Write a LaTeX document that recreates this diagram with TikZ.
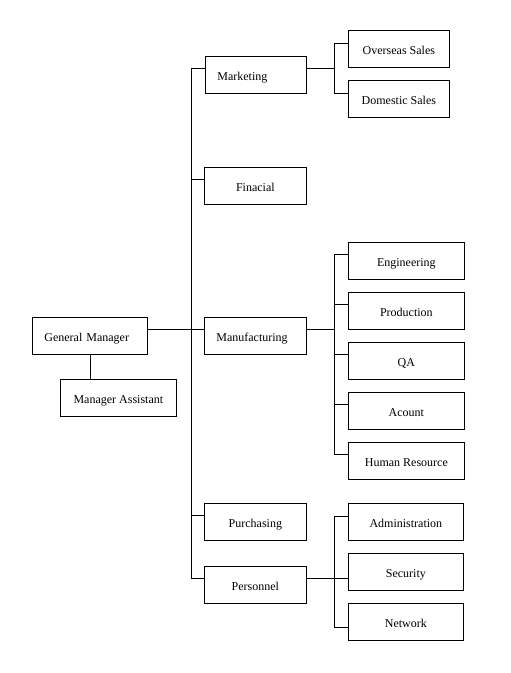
\documentclass[tikz,border=0pt]{standalone}
\usepackage{fontspec}
\setmainfont{Liberation Serif}
\begin{document}
\begin{tikzpicture}[x=1pt,y=-1pt,
  box/.style={draw, line width=0.8pt, rectangle, inner sep=0pt, minimum height=37pt,
    anchor=north west, text height=11.5pt, text depth=0.5pt, font=\fontsize{12}{14}\selectfont},
  cbox/.style={box, minimum width=#1},
  lbox/.style={box, align=left, inner xsep=12pt, text width=#1},
  conn/.style={line width=0.8pt}]
\useasboundingbox (0,0) rectangle (511,673);
% nodes
\node[lbox=91pt] (gm) at (32,317) {General Manager};
\node[cbox=116pt] (ma) at (60,379) {Manager Assistant};
\node[lbox=77pt] (mkt) at (205,56) {Marketing};
\node[cbox=102pt] (fin) at (204,167) {Finacial};
\node[lbox=78pt] (mfg) at (204,317) {Manufacturing};
\node[cbox=102pt] (pur) at (204,503) {Purchasing};
\node[cbox=102pt] (per) at (204,566) {Personnel};
\node[cbox=101pt] (os) at (348,30) {Overseas Sales};
\node[cbox=101pt] (ds) at (348,80) {Domestic Sales};
\node[cbox=116pt] (eng) at (348,242) {Engineering};
\node[cbox=116pt] (pro) at (348,292) {Production};
\node[cbox=116pt] (qa) at (348,342) {QA};
\node[cbox=116pt] (acc) at (348,392) {Acount};
\node[cbox=116pt] (hr) at (348,442) {Human Resource};
\node[cbox=115pt] (adm) at (348,503) {Administration};
\node[cbox=115pt] (sec) at (348,553) {Security};
\node[cbox=115pt] (net) at (348,603) {Network};
% bus coordinates
\coordinate (bx) at (191,0);
\coordinate (sx) at (334,0);
% main bus
\draw[conn] ([yshift=-12pt]mkt.north west -| bx) -- ([yshift=-12pt]per.north west -| bx);
\foreach \n in {mkt,fin,mfg,pur,per}
  \draw[conn] ([yshift=-12pt]\n.north west) -- ([yshift=-12pt]\n.north west -| bx);
\draw[conn] ([yshift=-12pt]gm.north east) -- ([yshift=-12pt]mfg.north west);
\draw[conn] (gm.south) -- (gm.south |- ma.north);
% marketing group
\draw[conn] ([yshift=-12pt]mkt.north east) -- ([yshift=-12pt]mkt.north east -| sx);
\draw[conn] ([yshift=-13pt]os.north west -| sx) -- ([yshift=-13pt]ds.north west -| sx);
\foreach \n in {os,ds}
  \draw[conn] ([yshift=-13pt]\n.north west) -- ([yshift=-13pt]\n.north west -| sx);
% manufacturing group
\draw[conn] ([yshift=-12pt]mfg.north east) -- ([yshift=-12pt]mfg.north east -| sx);
\draw[conn] ([yshift=-12pt]eng.north west -| sx) -- ([yshift=-12pt]hr.north west -| sx);
\foreach \n in {eng,pro,qa,acc,hr}
  \draw[conn] ([yshift=-12pt]\n.north west) -- ([yshift=-12pt]\n.north west -| sx);
% personnel group
\draw[conn] ([yshift=-12pt]per.north east) -- ([yshift=-12pt]per.north east -| sec.west);
\draw[conn] ([yshift=-13pt]adm.north west -| sx) -- ([yshift=-24pt]net.north west -| sx);
\draw[conn] ([yshift=-13pt]adm.north west) -- ([yshift=-13pt]adm.north west -| sx);
\draw[conn] ([yshift=-24pt]net.north west) -- ([yshift=-24pt]net.north west -| sx);
\end{tikzpicture}
\end{document}
